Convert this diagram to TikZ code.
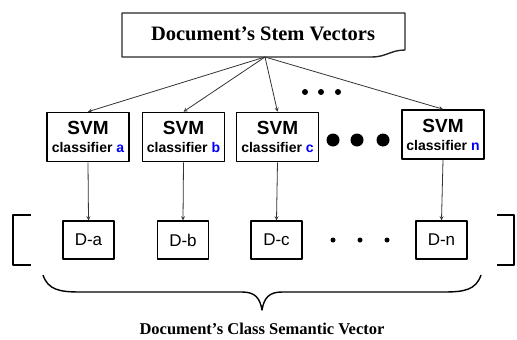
\documentclass[tikz,border=0pt]{standalone}
\usepackage{fontspec}
\setmainfont{Liberation Serif}
\setsansfont{Liberation Sans}
\newcommand{\svmlabel}[1]{{\fontsize{19}{20}\selectfont SVM}\\[6pt]{\fontsize{14}{15}\selectfont classifier \textcolor{blue}{#1}}}
\begin{document}
\begin{tikzpicture}[x=1pt,y=-1pt,line join=round,>=stealth]
\tikzset{every node/.style={inner sep=0pt},
  svmbox/.style={draw,line width=1.6pt,minimum width=82pt,minimum height=49pt,align=center,font=\sffamily\bfseries},
  dbox/.style={draw,line width=1.4pt,minimum width=51pt,minimum height=38pt,font=\sffamily\fontsize{17}{17}\selectfont},
  link/.style={->,line width=0.8pt,black!80}}
\useasboundingbox (0,0) rectangle (517,340);
% stem vector box
\draw[line width=1.4pt,black!85] (405,50) -- (405,13) -- (122,13) -- (122,57) -- (372,57)
  .. controls (386,57) and (391,50) .. (405,50);
\node[font=\bfseries\fontsize{20.5}{20}\selectfont] (stem) at (263,34) {Document's Stem Vectors};
\coordinate (fork) at (265,57);
% classifiers
\node[svmbox] (svma) at (88,137) {\svmlabel{a}};
\node[svmbox] (svmb) at (183.5,137) {\svmlabel{b}};
\node[svmbox] (svmc) at (277.5,137) {\svmlabel{c}};
\node[svmbox] (svmn) at (443,134.5) {\svmlabel{n}};
% outputs
\node[dbox] (da) at (88.5,240) {D-a};
\node[dbox] (db) at (183,240) {D-b};
\node[dbox] (dc) at (276.5,240) {D-c};
\node[dbox] (dn) at (441.5,240) {D-n};
% links
\foreach \s in {a,b,c,n}{
  \draw[link] (fork) -- (svm\s.north);
  \draw[link] (svm\s.south) -- (d\s.north);
}
% dots
\foreach \x in {305,321,338} \fill (\x,92) circle (3);
\foreach \x in {333,357,383} \fill (\x,140) circle (6.5);
\foreach \x in {333,360,387} \fill (\x,240) circle (2.5);
% brackets
\draw[line width=2pt] (31,215) -- (13,215) -- (13,265) -- (31,265);
\draw[line width=2pt] (497,215) -- (514,215) -- (514,265) -- (497,265);
% brace
\draw[line width=1.4pt] (43,275) .. controls (48,290) and (60,292) .. (80,292) -- (242,292)
  .. controls (255,292) and (260,298) .. (262,310)
  .. controls (264,298) and (269,292) .. (282,292) -- (444,292)
  .. controls (464,292) and (476,290) .. (481,275);
\node[font=\bfseries\fontsize{16.5}{16}\selectfont] (classvec) at (262,329) {Document's Class Semantic Vector};
\end{tikzpicture}
\end{document}
